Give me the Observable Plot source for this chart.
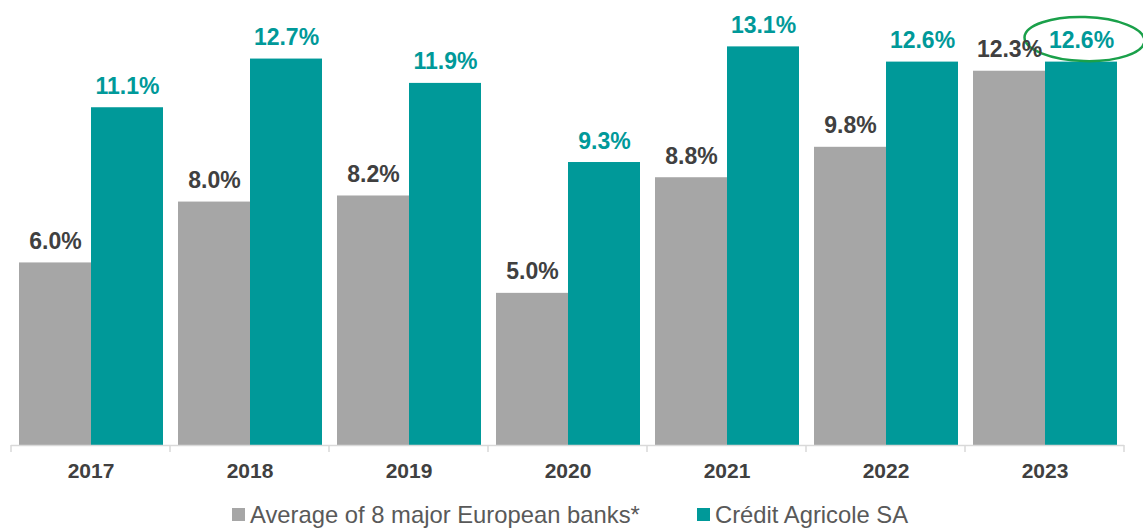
<!DOCTYPE html>
<html>
<head>
<meta charset="utf-8">
<script src="https://cdn.jsdelivr.net/npm/d3@7"></script>
<script src="https://cdn.jsdelivr.net/npm/@observablehq/plot@0.6"></script>
<style>
  html, body { margin: 0; padding: 0; background: #fff; }
  body { width: 1143px; height: 529px; overflow: hidden; font-family: "Liberation Sans", Arial, sans-serif; }
  #chart svg { display: block; }
  #chart [aria-label^="fx-axis"] text { font: bold 21px "Liberation Sans", Arial, sans-serif; fill: #404040; }
  .legend { position: relative; height: 39px; width: 1143px; }
  .legend .item { position: absolute; top: 11px; height: 27px; line-height: 27px; display: flex; align-items: center; font-size: 23.8px; color: #595959; white-space: nowrap; }
  .legend .sw { width: 13px; height: 13px; margin-right: 5px; }
</style>
</head>
<body>
<div id="chart"></div>
<div class="legend" id="legend"></div>
<script>
const years = ["2017", "2018", "2019", "2020", "2021", "2022", "2023"];
const avgEuropeanBanks = [6.0, 8.0, 8.2, 5.0, 8.8, 9.8, 12.3];
const creditAgricole = [11.1, 12.7, 11.9, 9.3, 13.1, 12.6, 12.6];
const series = ["Average of 8 major European banks*", "Crédit Agricole SA"];
const barColors = ["#a6a6a6", "#009999"];
const labelColors = ["#404040", "#009999"];
const highlightYear = "2023";

const rows = [];
years.forEach((y, i) => {
  rows.push({year: y, series: series[0], value: avgEuropeanBanks[i]});
  rows.push({year: y, series: series[1], value: creditAgricole[i]});
});

// ellipse symbol (drawn with cubic béziers)
function ellipseSymbol(rx, ry, angle) {
  const k = 0.5523, c = Math.cos(angle), s = Math.sin(angle);
  const P = (x, y) => [x * c - y * s, x * s + y * c];
  return {
    draw(ctx) {
      const pts = [
        [P(rx, 0)],
        [P(rx, k * ry), P(k * rx, ry), P(0, ry)],
        [P(-k * rx, ry), P(-rx, k * ry), P(-rx, 0)],
        [P(-rx, -k * ry), P(-k * rx, -ry), P(0, -ry)],
        [P(k * rx, -ry), P(rx, -k * ry), P(rx, 0)]
      ];
      ctx.moveTo(...pts[0][0]);
      for (let i = 1; i < pts.length; i++) ctx.bezierCurveTo(...pts[i][0], ...pts[i][1], ...pts[i][2]);
      ctx.closePath();
    }
  };
}

const font = "'Liberation Sans', Arial, sans-serif";
const chart = Plot.plot({
  width: 1143,
  height: 490,
  marginLeft: 11,
  marginRight: 19,
  marginTop: 19,
  marginBottom: 45,
  style: {fontFamily: font, background: "white"},
  facet: {data: rows, x: "year"},
  fx: {domain: years, padding: 0, label: null, tickSize: 0, tickPadding: 18},
  x: {domain: series, paddingInner: 0, paddingOuter: 0.1, axis: null},
  y: {domain: [0, 14], axis: null},
  color: {domain: series, range: barColors},
  marks: [
    Plot.barY(rows, {x: "series", y: "value", fill: "series"}),
    Plot.ruleY([0], {stroke: "#d9d9d9", strokeWidth: 1.5}),
    Plot.text(rows, {
      filter: d => d.series === series[1],
      x: "series", y: "value", text: d => d.value.toFixed(1) + "%",
      dy: -14, lineAnchor: "bottom", fill: labelColors[1],
      fontSize: 23, fontWeight: "bold", fontFamily: font
    }),
    Plot.dot(rows, {
      filter: d => d.year === highlightYear && d.series === series[1],
      x: "series", y: "value", dx: 3, dy: -23, r: 10,
      symbol: ellipseSymbol(60, 22, 0.03),
      fill: "none", stroke: "#1aa04a", strokeWidth: 2.5
    }),
    Plot.text(rows, {
      filter: d => d.series === series[0],
      x: "series", y: "value", text: d => d.value.toFixed(1) + "%",
      dy: -14, lineAnchor: "bottom", fill: labelColors[0],
      fontSize: 23, fontWeight: "bold", fontFamily: font
    })
  ]
});
document.getElementById("chart").appendChild(chart);

// group boundary ticks on the category axis
try {
  const fx = chart.scale("fx");
  const y = chart.scale("y");
  const y0 = y.apply ? y.apply(0) : 445;
  const bw = fx.bandwidth;
  const edges = years.map(d => fx.apply(d));
  edges.push(fx.apply(years[years.length - 1]) + bw);
  d3.select(chart).append("g")
    .selectAll("line").data(edges).join("line")
    .attr("x1", d => d).attr("x2", d => d)
    .attr("y1", y0).attr("y2", y0 + 7)
    .attr("stroke", "#d9d9d9").attr("stroke-width", 1.5);
} catch (e) { console.error(e); }

// legend
const legend = d3.select("#legend");
const lefts = [232, 697];
series.forEach((s, i) => {
  const it = legend.append("div").attr("class", "item").style("left", lefts[i] + "px");
  it.append("div").attr("class", "sw").style("background", barColors[i]);
  it.append("span").text(s);
});
</script>
</body>
</html>
